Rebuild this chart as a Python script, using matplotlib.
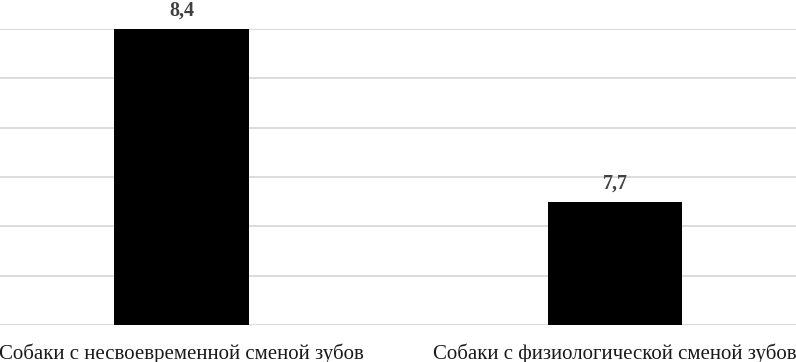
import matplotlib
matplotlib.use("Agg")
from matplotlib import pyplot as plt

categories = ["Собаки с несвоевременной сменой зубов",
              "Собаки с физиологической сменой зубов"]
values = [8.4, 7.7]
value_labels = ["8,4", "7,7"]

plt.rcParams['font.family'] = ['Liberation Serif', 'DejaVu Serif']

fig = plt.figure(figsize=(7.96, 3.62), dpi=100)
# axes: bottom at 325 px, top at 29 px
ax = fig.add_axes([0, (362-325)/362.0, 1, (325-29)/362.0])

x = [0, 1]
ax.bar(x, values, width=0.31, color="black", zorder=3)

ax.set_ylim(7.2, 8.4)
ax.set_xlim(-181.5/433.5, (796-181.5)/433.5)
ax.set_yticks([7.2, 7.4, 7.6, 7.8, 8.0, 8.2, 8.4])
ax.yaxis.grid(True, color="#d9d9d9", linewidth=1.3, zorder=0)
ax.tick_params(axis="y", left=False, labelleft=False)
ax.tick_params(axis="x", bottom=False, pad=9.5)
ax.set_xticks(x)
ax.set_xticklabels(categories, fontsize=15, color="#1a1a1a")
for s in ax.spines.values():
    s.set_visible(False)

for xi, v, lab in zip(x, values, value_labels):
    ax.annotate(lab, (xi, v), xytext=(0, 6), textcoords="offset points",
                ha="center", va="bottom", fontsize=14.5, fontweight="bold",
                color="#404040", annotation_clip=False)

fig.savefig("out.png", dpi=100)
